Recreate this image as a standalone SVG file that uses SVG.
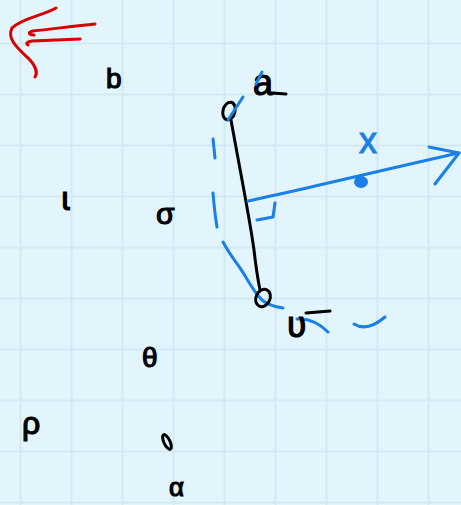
<svg xmlns="http://www.w3.org/2000/svg" width="461" height="505" viewBox="0 0 461 505">
<defs>
<style>
.grid{stroke:#d2e9f2;stroke-width:2}
.ink{fill:none;stroke:#000;stroke-width:3;stroke-linecap:round;stroke-linejoin:round}
.blue{fill:none;stroke:#1a7fe6;stroke-width:3;stroke-linecap:round;stroke-linejoin:round}
.red{fill:none;stroke:#d90000;stroke-width:3;stroke-linecap:round;stroke-linejoin:round}
.t{font-family:"Liberation Sans","DejaVu Sans",sans-serif;fill:#000;stroke:#000;stroke-width:1.2}
</style>
</defs>
<rect width="461" height="505" fill="#e3f5fc"/>
<g id="grid">
<path class="grid" d="M20.5,0V505M71.5,0V505M122.5,0V505M173.5,0V505M224.5,0V505M275.5,0V505M326.5,0V505M377.5,0V505M428.5,0V505M0,43.5H461M0,94.5H461M0,145.5H461M0,196.5H461M0,247.5H461M0,298.5H461M0,349.5H461M0,400.5H461M0,451.5H461M0,502.5H461"/>
</g>
<g id="red-arrow">
<path class="red" d="M56,8 C42,16 22,18 12,28 C6,40 20,50 30,60 C37,68 37,74 35,77"/>
<path class="red" d="M95,24 C75,26 52,29 33,31 C28,32 28,35 34,35"/>
<path class="red" d="M80,39 L32,41 C26,42 26,44 28,45"/>
</g>
<g id="labels">
<text class="t" x="106" y="88" font-size="28">b</text>
<text class="t" x="62" y="210" font-size="34">ɩ</text>
<text class="t" x="156" y="224" font-size="30">σ</text>
<text class="t" x="142" y="367" font-size="28">θ</text>
<text class="t" x="22" y="434" font-size="32">ρ</text>
<text class="t" x="169" y="496" font-size="26">α</text>
<ellipse cx="167" cy="442" rx="3" ry="8" transform="rotate(-25 167 442)" class="ink"/>
</g>
<g id="connectors">
<path class="ink" d="M231,120 C240,170 250,220 254,250 C256,268 258,280 260,290"/>
<path class="blue" d="M213,139 L215,158"/>
<path class="blue" d="M213,193 C214,205 215,215 217,227"/>
<path class="blue" d="M223,242 C230,255 236,262 240,268 C246,276 252,290 262,300 C268,305 276,307 283,308"/>
<path class="blue" d="M297,319 C310,318 320,324 328,332"/>
<path class="blue" d="M354,324 C362,329 372,328 385,317"/>
<path class="blue" d="M248,201 C300,190 400,166 459,153"/>
<path class="blue" d="M429,147 L459,153 L435,184"/>
<path class="blue" d="M257,220 L273,217 L275,203"/>
<ellipse cx="361" cy="182" rx="7" ry="6" fill="#1a7fe6"/>
</g>
<g id="node-a">
<ellipse class="ink" cx="229" cy="111" rx="6" ry="9" transform="rotate(15 229 111)"/>
<path class="blue" d="M228,120 L243,97"/>
<text class="t" x="253" y="95" font-size="36">a</text>
<path class="ink" d="M272,93 L286,94"/>
<path class="blue" d="M256,84 L262,72"/>
</g>
<g id="node-b">
<ellipse class="ink" cx="263" cy="298" rx="7" ry="9" transform="rotate(25 263 298)"/>
<text class="t" x="287" y="337" font-size="36">ʋ</text>
<path class="ink" d="M306,313 L330,311"/>
</g>
<text x="368" y="153" font-size="36" fill="#1a7fe6" stroke="#1a7fe6" stroke-width="1" font-family="Liberation Sans, sans-serif" text-anchor="middle">x</text>
</svg>
